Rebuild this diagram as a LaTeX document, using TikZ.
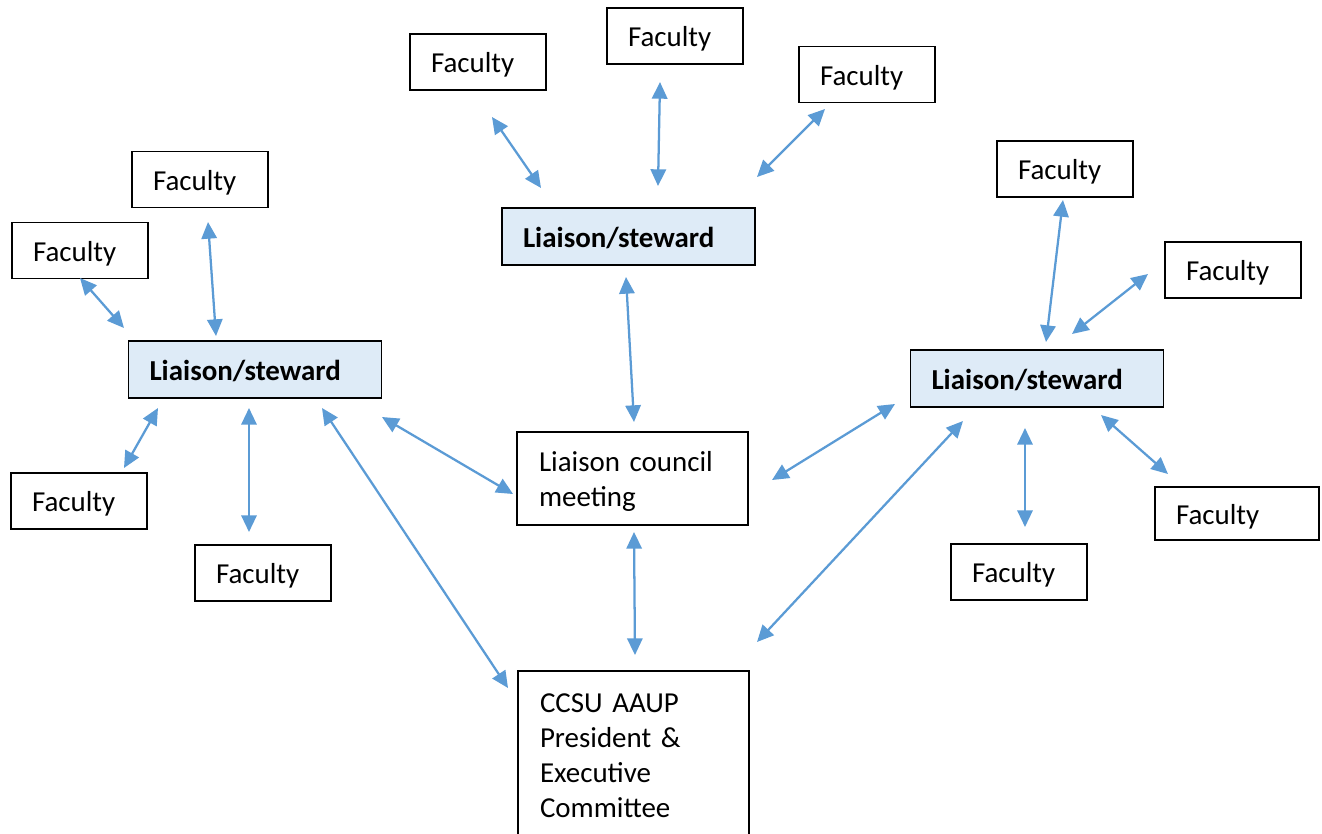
\documentclass[tikz,border=0pt]{standalone}
\usepackage{fontspec}
\setmainfont{Carlito}
\usetikzlibrary{arrows.meta}
\definecolor{arrowblue}{RGB}{91,155,213}
\definecolor{lfill}{RGB}{222,235,247}
\newcommand{\boxfont}{\fontsize{21.7}{26.3}\selectfont}
\tikzset{
  box/.style={draw=black, line width=1.4pt, rectangle, inner xsep=15.75pt, inner ysep=0pt, font=\boxfont, align=left},
  lower/.style={execute at begin node={\rule{0pt}{#1}}},
  fac/.style={box, lower=0.9em, text width=70.5pt, minimum height=42pt},
  facwide/.style={box, lower=0.9em, text width=91.5pt, minimum height=40pt},
  liaison/.style={box, lower=0.78em, fill=lfill, font=\boxfont\bfseries, text width=158.25pt, minimum height=42.75pt},
  council/.style={box, lower=0.9em, inner xsep=16.5pt, text width=140.25pt, minimum height=69.75pt},
  pres/.style={box, inner xsep=16.5pt, text width=140.25pt, minimum height=127.5pt},
  link/.style={arrowblue, line width=1.7pt, {Triangle[length=12.5pt,width=11.5pt]}-{Triangle[length=12.5pt,width=11.5pt]}}
}
\begin{document}
\begin{tikzpicture}[x=0.75pt,y=-0.75pt]
\useasboundingbox (0,0) rectangle (1322,833);
\clip (0,0) rectangle (1322,833);
% faculty boxes
\node[fac] (f1) at (478,62) {Faculty};
\node[fac] (f2) at (675,36) {Faculty};
\node[fac] (f3) at (867,74.5) {Faculty};
\node[fac] (f4) at (200,179.5) {Faculty};
\node[fac] (f5) at (80,250.5) {Faculty};
\node[fac] (f6) at (1065,169) {Faculty};
\node[fac] (f7) at (1233,270) {Faculty};
\node[fac] (f8) at (79,501) {Faculty};
\node[fac] (f9) at (263,573) {Faculty};
\node[fac] (f10) at (1019,572) {Faculty};
\node[facwide] (f11) at (1237,513.5) {Faculty};
% liaison boxes
\node[liaison] (l1) at (628.5,236.5) {Liaison/steward};
\node[liaison] (l2) at (255,369.5) {Liaison/steward};
\node[liaison] (l3) at (1037,378.5) {Liaison/steward};
% council and president
\node[council] (c) at (632.5,478.5) {Liaison council\\meeting};
\node[pres] (p) at (633.5,756) {CCSU AAUP\\President \&\\Executive\\Committee};
% arrow end points
\coordinate (f1l1a) at (492,117);  \coordinate (f1l1b) at (541,188);
\coordinate (f2l1a) at (660,82);   \coordinate (f2l1b) at (658,186);
\coordinate (f3l1a) at (825,109);  \coordinate (f3l1b) at (757,177);
\coordinate (f4l2a) at (208,222);  \coordinate (f4l2b) at (216,336);
\coordinate (f5l2a) at (80,278);   \coordinate (f5l2b) at (124,328);
\coordinate (f8l2a) at (124,468);  \coordinate (f8l2b) at (158,408);
\coordinate (f9l2a) at (249,532);  \coordinate (f9l2b) at (249,408);
\coordinate (l2pa) at (322,408);   \coordinate (l2pb) at (508,688);
\coordinate (l2ca) at (382,417);   \coordinate (l2cb) at (513,494);
\coordinate (l1ca) at (626,277);   \coordinate (l1cb) at (634,422);
\coordinate (cpa) at (634,532);    \coordinate (cpb) at (635,655);
\coordinate (cl3a) at (772,480);   \coordinate (cl3b) at (895,404);
\coordinate (l3pa) at (963,421);   \coordinate (l3pb) at (757,642);
\coordinate (f6l3a) at (1063,200); \coordinate (f6l3b) at (1046,342);
\coordinate (f7l3a) at (1148,274); \coordinate (f7l3b) at (1072,334);
\coordinate (f10l3a) at (1025,527);\coordinate (f10l3b) at (1025,428);
\coordinate (f11l3a) at (1168,474);\coordinate (f11l3b) at (1101,415);
% connectors
\draw[link] (f1l1a) -- (f1l1b);
\draw[link] (f2l1a) -- (f2l1b);
\draw[link] (f3l1a) -- (f3l1b);
\draw[link] (f4l2a) -- (f4l2b);
\draw[link] (f5l2a) -- (f5l2b);
\draw[link] (f8l2a) -- (f8l2b);
\draw[link] (f9l2a) -- (f9l2b);
\draw[link] (l2pa) -- (l2pb);
\draw[link] (l2ca) -- (l2cb);
\draw[link] (l1ca) -- (l1cb);
\draw[link] (cpa) -- (cpb);
\draw[link] (cl3a) -- (cl3b);
\draw[link] (l3pa) -- (l3pb);
\draw[link] (f6l3a) -- (f6l3b);
\draw[link] (f7l3a) -- (f7l3b);
\draw[link] (f10l3a) -- (f10l3b);
\draw[link] (f11l3a) -- (f11l3b);
\end{tikzpicture}
\end{document}
